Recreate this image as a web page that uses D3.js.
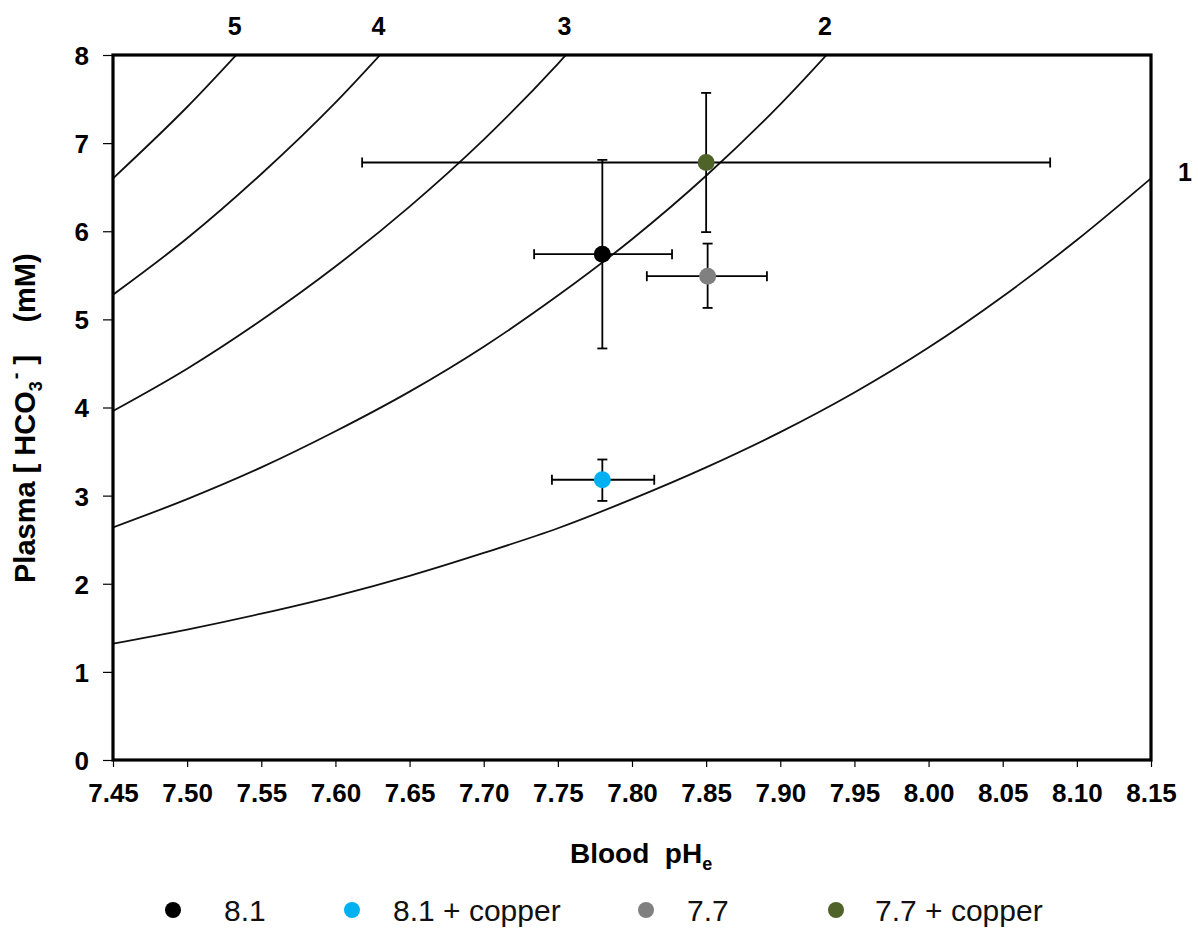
<!DOCTYPE html>
<html>
<head>
<meta charset="utf-8">
<script src="https://cdn.jsdelivr.net/npm/d3@7"></script>
<style>
  body { margin: 0; background: #fff; }
  svg text { font-family: "Liberation Sans", Arial, sans-serif; }
</style>
</head>
<body>
<div id="chart"></div>
<script>
// pH grid for the PCO2 isopleths
const isoPH = [7.45, 7.50, 7.55, 7.60, 7.65, 7.70, 7.75, 7.80, 7.85, 7.90, 7.95, 8.00, 8.05, 8.10, 8.15];
// HCO3- along each isopleth (beyond 8 mM is clipped)
const iso1 = [1.32, 1.48, 1.66, 1.86, 2.09, 2.35, 2.63, 2.96, 3.32, 3.72, 4.17, 4.68, 5.26, 5.90, 6.60];
const iso2 = [2.64, 2.96, 3.32, 3.73, 4.18, 4.69, 5.27, 5.91, 6.63, 7.44, 8.35];
const iso3 = [3.96, 4.44, 4.99, 5.60, 6.28, 7.04, 7.90, 8.87];
const iso4 = [5.28, 5.92, 6.65, 7.46, 8.37];
const iso5 = [6.60, 7.41, 8.31];
const isoLabels = ['1', '2', '3', '4', '5'];

// treatment means and error bars
const groups = ['8.1', '8.1 + copper', '7.7', '7.7 + copper'];
const colors = ['#000000', '#00b0f0', '#808080', '#4f6228'];
const phMean = [7.780, 7.780, 7.851, 7.850];
const phLow = [7.734, 7.746, 7.810, 7.618];
const phHigh = [7.827, 7.815, 7.891, 8.082];
const hco3Mean = [5.74, 3.18, 5.49, 6.78];
const hco3Low = [4.67, 2.94, 5.13, 5.99];
const hco3High = [6.81, 3.41, 5.86, 7.57];

const xTicks = [7.45, 7.50, 7.55, 7.60, 7.65, 7.70, 7.75, 7.80, 7.85, 7.90, 7.95, 8.00, 8.05, 8.10, 8.15];
const yTicks = [0, 1, 2, 3, 4, 5, 6, 7, 8];

const width = 1198, height = 932;
const margin = { left: 113, right: 47, top: 55, bottom: 172 };

const svg = d3.select('#chart').append('svg')
    .attr('width', width)
    .attr('height', height);

const x = d3.scaleLinear().domain([7.45, 8.15]).range([margin.left, width - margin.right]);
const y = d3.scaleLinear().domain([0, 8]).range([height - margin.bottom, margin.top]);

svg.append('clipPath').attr('id', 'plot-clip')
    .append('rect')
    .attr('x', x(7.45)).attr('y', y(8))
    .attr('width', x(8.15) - x(7.45)).attr('height', y(0) - y(8));

// isopleth curves
const isos = [iso1, iso2, iso3, iso4, iso5];
const line = d3.line()
    .x((d) => x(d[0]))
    .y((d) => y(d[1]))
    .curve(d3.curveMonotoneX);

svg.append('g')
    .attr('clip-path', 'url(#plot-clip)')
    .selectAll('path')
    .data(isos.map((vals) => vals.map((v, i) => [isoPH[i], v])))
    .enter()
    .append('path')
    .attr('d', line)
    .attr('fill', 'none')
    .attr('stroke', '#111')
    .attr('stroke-width', 1.8);

// curve labels: where each isopleth leaves the plot
isos.forEach((vals, k) => {
    let lx, ly;
    const last = vals.length - 1;
    if (vals[last] <= 8) {
        lx = x(8.15) + 34;
        ly = y(vals[last]) + 3;
    } else {
        const i = vals.findIndex((v) => v > 8);
        const t = (8 - vals[i - 1]) / (vals[i] - vals[i - 1]);
        const ph = isoPH[i - 1] + t * (isoPH[i] - isoPH[i - 1]);
        lx = x(ph) - 1;
        ly = y(8) - 20;
    }
    svg.append('text')
        .attr('x', lx)
        .attr('y', ly)
        .attr('text-anchor', 'middle')
        .attr('font-size', '25px')
        .attr('font-weight', 'bold')
        .text(isoLabels[k]);
});

// axes
const xAxis = svg.append('g')
    .attr('transform', `translate(0, ${y(0)})`)
    .call(d3.axisBottom(x).tickValues(xTicks).tickFormat(d3.format('.2f')).tickSize(7).tickSizeOuter(0));
const yAxis = svg.append('g')
    .attr('transform', `translate(${x(7.45)}, 0)`)
    .call(d3.axisLeft(y).tickValues(yTicks).tickFormat(d3.format('d')).tickSize(10).tickSizeOuter(0));

[xAxis, yAxis].forEach((g) => {
    g.select('.domain').remove();
    g.selectAll('.tick line').attr('stroke', '#000').attr('stroke-width', 1.2);
    g.selectAll('.tick text')
        .attr('fill', '#000')
        .attr('font-size', '26px')
        .attr('font-weight', 'bold')
        .style('font-family', '"Liberation Sans", Arial, sans-serif');
});
xAxis.selectAll('.tick text').attr('y', 42).attr('dy', null);
yAxis.selectAll('.tick text').attr('x', -24).attr('dy', '0.36em');

// frame
svg.append('rect')
    .attr('x', x(7.45)).attr('y', y(8))
    .attr('width', x(8.15) - x(7.45)).attr('height', y(0) - y(8))
    .attr('fill', 'none')
    .attr('stroke', '#000')
    .attr('stroke-width', 3.2);

// error bars
const bars = svg.append('g').attr('stroke', '#000').attr('stroke-width', 1.8);
const cap = 5;
groups.forEach((g, i) => {
    bars.append('line')
        .attr('x1', x(phLow[i])).attr('x2', x(phHigh[i]))
        .attr('y1', y(hco3Mean[i])).attr('y2', y(hco3Mean[i]));
    bars.append('line')
        .attr('x1', x(phMean[i])).attr('x2', x(phMean[i]))
        .attr('y1', y(hco3Low[i])).attr('y2', y(hco3High[i]));
    [phLow[i], phHigh[i]].forEach((v) => {
        bars.append('line')
            .attr('x1', x(v)).attr('x2', x(v))
            .attr('y1', y(hco3Mean[i]) - cap).attr('y2', y(hco3Mean[i]) + cap);
    });
    [hco3Low[i], hco3High[i]].forEach((v) => {
        bars.append('line')
            .attr('x1', x(phMean[i]) - cap).attr('x2', x(phMean[i]) + cap)
            .attr('y1', y(v)).attr('y2', y(v));
    });
});

// means
svg.append('g')
    .selectAll('circle')
    .data(groups)
    .enter()
    .append('circle')
    .attr('cx', (d, i) => x(phMean[i]))
    .attr('cy', (d, i) => y(hco3Mean[i]))
    .attr('r', 8.5)
    .attr('fill', (d, i) => colors[i]);

// axis titles
const xTitle = svg.append('text')
    .attr('x', 570)
    .attr('y', 863)
    .attr('font-size', '28px')
    .attr('font-weight', 'bold')
    .attr('xml:space', 'preserve');
xTitle.append('tspan').text('Blood  pH');
xTitle.append('tspan').attr('font-size', '18px').attr('dy', 7).text('e');

const yTitle = svg.append('text')
    .attr('transform', 'translate(35, 583) rotate(-90)')
    .attr('font-size', '29px')
    .attr('font-weight', 'bold')
    .attr('xml:space', 'preserve');
yTitle.append('tspan').text('Plasma [ HCO');
yTitle.append('tspan').attr('font-size', '18px').attr('dy', 7).text('3');
yTitle.append('tspan').attr('font-size', '20px').attr('dx', 2).attr('dy', -20).text('-');
yTitle.append('tspan').attr('dy', 13).text(' ]    (mM)');

// legend
const legendX = [173, 352, 646, 836];
const legendTextX = [224, 393, 687, 875];
const legend = svg.append('g');
legend.selectAll('circle')
    .data(groups)
    .enter()
    .append('circle')
    .attr('cx', (d, i) => legendX[i])
    .attr('cy', 910)
    .attr('r', 8)
    .attr('fill', (d, i) => colors[i]);
legend.selectAll('text')
    .data(groups)
    .enter()
    .append('text')
    .attr('x', (d, i) => legendTextX[i])
    .attr('y', 921)
    .attr('font-size', '30px')
    .attr('fill', '#111')
    .text((d) => d);
</script>
</body>
</html>
